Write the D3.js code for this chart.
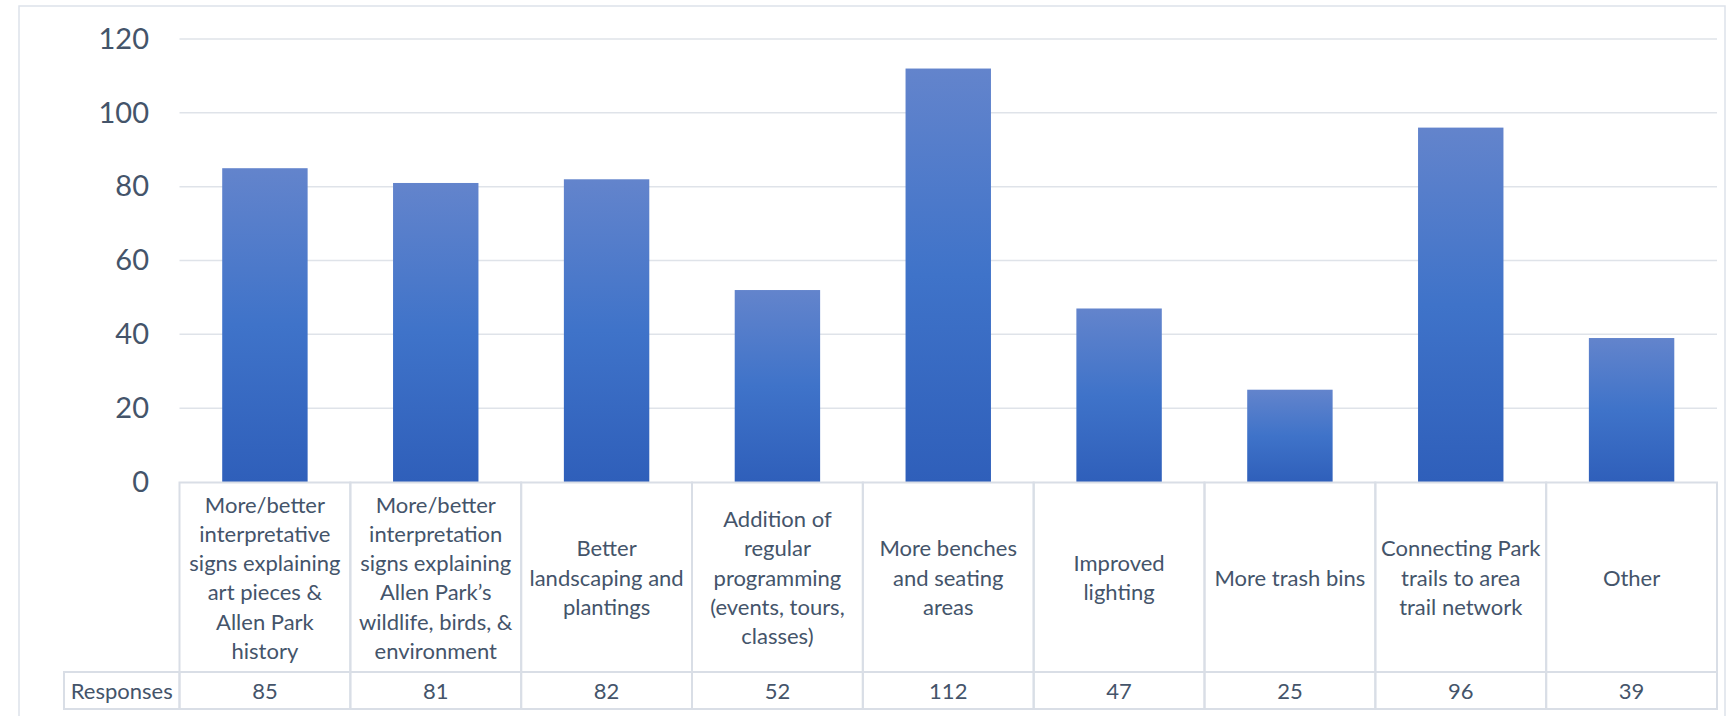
<!DOCTYPE html>
<html>
<head>
<meta charset="utf-8">
<script src="https://cdn.jsdelivr.net/npm/d3@7/dist/d3.min.js"></script>
<style>
  html, body { margin: 0; padding: 0; background: #ffffff; }
  svg { display: block; font-family: Lato, "Open Sans", sans-serif; }
</style>
</head>
<body>
<svg id="chart" width="1728" height="716"></svg>
<script>
// Survey: desired park improvements
const categories = [
  "More/better interpretative signs explaining art pieces & Allen Park history",
  "More/better interpretation signs explaining Allen Park’s wildlife, birds, & environment",
  "Better landscaping and plantings",
  "Addition of regular programming (events, tours, classes)",
  "More benches and seating areas",
  "Improved lighting",
  "More trash bins",
  "Connecting Park trails to area trail network",
  "Other"
];
const categoryLines = [
  ["More/better", "interpretative", "signs explaining", "art pieces &", "Allen Park", "history"],
  ["More/better", "interpretation", "signs explaining", "Allen Park’s", "wildlife, birds, &", "environment"],
  ["Better", "landscaping and", "plantings"],
  ["Addition of", "regular", "programming", "(events, tours,", "classes)"],
  ["More benches", "and seating", "areas"],
  ["Improved", "lighting"],
  ["More trash bins"],
  ["Connecting Park", "trails to area", "trail network"],
  ["Other"]
];
const seriesName = "Responses";
const responses = [85, 81, 82, 52, 112, 47, 25, 96, 39];
const yTicks = [0, 20, 40, 60, 80, 100, 120];

const textColor = "#44546A";
const gridColor = "#DFE3E9";
const borderColor = "#D9DEE6";

const svg = d3.select("#chart");

// Frame around the chart area
svg.append("rect")
  .attr("x", 19).attr("y", 6)
  .attr("width", 1706).attr("height", 720)
  .attr("fill", "none")
  .attr("stroke", "#DDE2EA")
  .attr("stroke-width", 1.5);

const plot = { left: 179.5, right: 1717, top: 39, bottom: 482 };
const table = { headTop: 482.5, rowTop: 672, bottom: 709, labelLeft: 64 };

const x = d3.scaleBand()
  .domain(categories)
  .range([plot.left, plot.right])
  .paddingInner(0.5)
  .paddingOuter(0.25);

const y = d3.scaleLinear()
  .domain([0, 120])
  .range([plot.bottom, plot.top]);

// Horizontal gridlines
svg.append("g")
  .selectAll("line")
  .data(yTicks.filter(d => d > 0))
  .join("line")
  .attr("x1", plot.left).attr("x2", plot.right)
  .attr("y1", d => y(d)).attr("y2", d => y(d))
  .attr("stroke", gridColor)
  .attr("stroke-width", 1.5);

// Value axis
const yAxis = d3.axisLeft(y).tickValues(yTicks).tickSize(0).tickPadding(0);
const yAxisG = svg.append("g")
  .attr("transform", `translate(149,0)`)
  .call(yAxis);
yAxisG.select(".domain").remove();
yAxisG.selectAll("text")
  .attr("fill", textColor)
  .style("font-size", "29px")
  .style("font-family", "Lato, sans-serif");

// Bar gradient
const defs = svg.append("defs");
const grad = defs.append("linearGradient")
  .attr("id", "barGrad")
  .attr("x1", 0).attr("y1", 0).attr("x2", 0).attr("y2", 1);
grad.append("stop").attr("offset", "0%").attr("stop-color", "#6384CC");
grad.append("stop").attr("offset", "50%").attr("stop-color", "#3F73C9");
grad.append("stop").attr("offset", "100%").attr("stop-color", "#2F5FBA");

svg.append("g")
  .selectAll("rect")
  .data(responses)
  .join("rect")
  .attr("x", (d, i) => x(categories[i]))
  .attr("width", x.bandwidth())
  .attr("y", d => y(d))
  .attr("height", d => y(0) - y(d))
  .attr("fill", "url(#barGrad)");

// Data table beneath the plot
const step = x.step();
const colLeft = i => plot.left + i * step;
const tbl = svg.append("g");

// header cells (category names)
tbl.append("g")
  .selectAll("rect")
  .data(categories)
  .join("rect")
  .attr("x", (d, i) => colLeft(i))
  .attr("y", table.headTop)
  .attr("width", step)
  .attr("height", table.rowTop - table.headTop)
  .attr("fill", "none")
  .attr("stroke", borderColor)
  .attr("stroke-width", 2);

// value row, including its label cell
tbl.append("rect")
  .attr("x", table.labelLeft)
  .attr("y", table.rowTop)
  .attr("width", plot.left - table.labelLeft)
  .attr("height", table.bottom - table.rowTop)
  .attr("fill", "none")
  .attr("stroke", borderColor)
  .attr("stroke-width", 2);
tbl.append("g")
  .selectAll("rect")
  .data(categories)
  .join("rect")
  .attr("x", (d, i) => colLeft(i))
  .attr("y", table.rowTop)
  .attr("width", step)
  .attr("height", table.bottom - table.rowTop)
  .attr("fill", "none")
  .attr("stroke", borderColor)
  .attr("stroke-width", 2);

const lineH = 29.3;
const headMid = (table.headTop + table.rowTop) / 2;
tbl.append("g")
  .selectAll("text")
  .data(categoryLines)
  .join("text")
  .attr("x", (d, i) => x(categories[i]) + x.bandwidth() / 2)
  .attr("y", headMid)
  .attr("text-anchor", "middle")
  .attr("fill", textColor)
  .style("font-size", "22px")
  .each(function (lines) {
    const t = d3.select(this);
    const y0 = -((lines.length - 1) / 2) * lineH;
    lines.forEach((ln, k) => {
      t.append("tspan")
        .attr("x", t.attr("x"))
        .attr("dy", k === 0 ? y0 : lineH)
        .attr("dominant-baseline", "central")
        .text(ln);
    });
  });

const rowMid = (table.rowTop + table.bottom) / 2;
tbl.append("text")
  .attr("x", (table.labelLeft + plot.left) / 2)
  .attr("y", rowMid)
  .attr("text-anchor", "middle")
  .attr("dominant-baseline", "central")
  .attr("fill", textColor)
  .style("font-size", "22px")
  .text(seriesName);

tbl.append("g")
  .selectAll("text")
  .data(responses)
  .join("text")
  .attr("x", (d, i) => x(categories[i]) + x.bandwidth() / 2)
  .attr("y", rowMid)
  .attr("text-anchor", "middle")
  .attr("dominant-baseline", "central")
  .attr("fill", textColor)
  .style("font-size", "22px")
  .text(d => d);
</script>
</body>
</html>
